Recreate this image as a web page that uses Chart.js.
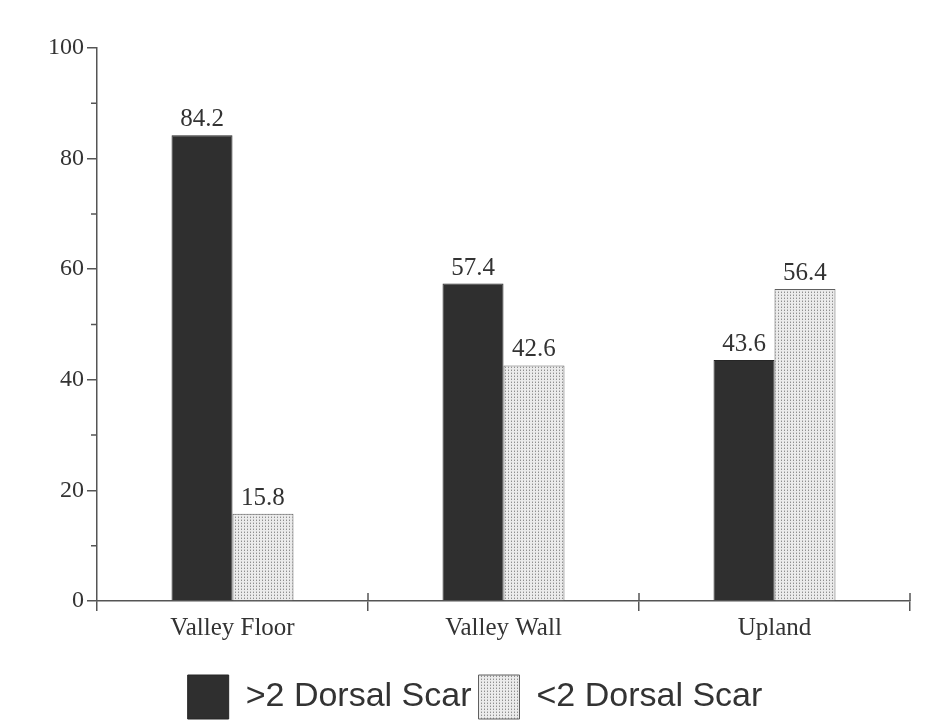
<!DOCTYPE html>
<html>
<head>
<meta charset="utf-8">
<script src="https://cdn.jsdelivr.net/npm/chart.js@4"></script>
<style>
  html, body { margin: 0; padding: 0; background: #fff; }
  #wrap { width: 925px; height: 726px; }
</style>
</head>
<body>
<div id="wrap"><canvas id="chart" width="925" height="726"></canvas></div>
<script>
const categories = ['Valley Floor', 'Valley Wall', 'Upland'];
const moreScars = [84.2, 57.4, 43.6];
const fewerScars = [15.8, 42.6, 56.4];
const seriesNames = ['>2 Dorsal Scar', '<2 Dorsal Scar'];
const yTicks = [0, 20, 40, 60, 80, 100];

const ink = '#333';
const axisColor = '#555';

// dotted screen fill for the light bars
function dotPattern() {
  const c = document.createElement('canvas');
  c.width = 3; c.height = 3;
  const g = c.getContext('2d');
  g.fillStyle = '#ebebeb';
  g.fillRect(0, 0, 3, 3);
  g.fillStyle = '#8f8f8f';
  g.fillRect(1, 1, 1, 1);
  g.fillStyle = '#c4c4c4';
  g.fillRect(1, 0, 1, 1);
  return g.createPattern(c, 'repeat');
}
const dots = dotPattern();

const valueLabels = {
  id: 'valueLabels',
  afterDatasetsDraw(chart) {
    const ctx = chart.ctx;
    ctx.save();
    ctx.font = '25px "Liberation Serif", serif';
    ctx.fillStyle = ink;
    ctx.textAlign = 'center';
    ctx.textBaseline = 'bottom';
    chart.data.datasets.forEach(function(ds, i) {
      chart.getDatasetMeta(i).data.forEach(function(bar, j) {
        ctx.fillText(ds.data[j].toFixed(1), bar.x, bar.y - 3);
      });
    });
    ctx.restore();
  }
};

// short minor ticks on y, and the category separators that cross the x axis
const axisTicks = {
  id: 'axisTicks',
  afterDraw(chart) {
    const ctx = chart.ctx;
    const x = chart.scales.x, y = chart.scales.y;
    ctx.save();
    ctx.strokeStyle = axisColor;
    ctx.lineWidth = 1.5;
    ctx.beginPath();
    y.ticks.forEach(function(t) {
      if (t.value % 20 !== 0) {
        const py = y.getPixelForValue(t.value);
        ctx.moveTo(x.left - 6, py);
        ctx.lineTo(x.left, py);
      }
    });
    const step = x.getPixelForValue(1) - x.getPixelForValue(0);
    for (let i = 1; i <= categories.length; i++) {
      const px = x.getPixelForValue(i - 1) + step / 2;
      ctx.moveTo(px, y.bottom - 8);
      ctx.lineTo(px, y.bottom);
    }
    ctx.stroke();
    ctx.restore();
  }
};

const ctx = document.getElementById('chart').getContext('2d');
new Chart(ctx, {
  type: 'bar',
  data: {
    labels: categories,
    datasets: [
      {
        label: seriesNames[0],
        data: moreScars,
        backgroundColor: '#2f2f2f',
        borderColor: '#262626',
        borderWidth: 1,
        categoryPercentage: 0.45,
        barPercentage: 1.0,
      },
      {
        label: seriesNames[1],
        data: fewerScars,
        backgroundColor: dots,
        borderColor: '#606060',
        borderWidth: 1,
        categoryPercentage: 0.45,
        barPercentage: 1.0,
      },
    ],
  },
  options: {
    responsive: false,
    animation: false,
    layout: { padding: { left: 40, right: 15, top: 48, bottom: -3 } },
    plugins: {
      tooltip: { enabled: false },
      legend: {
        position: 'bottom',
        labels: {
          boxWidth: 41,
          boxHeight: 44,
          padding: 7,
          color: ink,
          font: { family: '"Liberation Sans", Arial, sans-serif', size: 34 },
        },
      },
    },
    scales: {
      x: {
        afterFit: function(s) { s.height = 67; },
        grid: {
          offset: true,
          drawOnChartArea: false,
          tickLength: 10,
          color: axisColor,
          lineWidth: 1.5,
        },
        border: { color: axisColor, width: 1.5 },
        ticks: {
          padding: 2,
          color: ink,
          font: { family: '"Liberation Serif", serif', size: 25 },
        },
      },
      y: {
        min: 0,
        max: 100,
        afterFit: function(s) { s.width = 57; },
        afterBuildTicks: function(s) {
          s.ticks = [];
          for (let v = 0; v <= 100; v += 10) s.ticks.push({ value: v });
        },
        grid: {
          drawOnChartArea: false,
          tickLength: 10,
          lineWidth: 1.5,
          tickColor: function(c) {
            return c.tick && yTicks.indexOf(c.tick.value) < 0 ? 'rgba(0,0,0,0)' : axisColor;
          },
        },
        border: { color: axisColor, width: 1.5 },
        ticks: {
          padding: 3,
          color: ink,
          font: { family: '"Liberation Serif", serif', size: 24 },
          callback: function(v) { return yTicks.indexOf(v) >= 0 ? v : ''; },
        },
      },
    },
  },
  plugins: [valueLabels, axisTicks],
});
</script>
</body>
</html>
